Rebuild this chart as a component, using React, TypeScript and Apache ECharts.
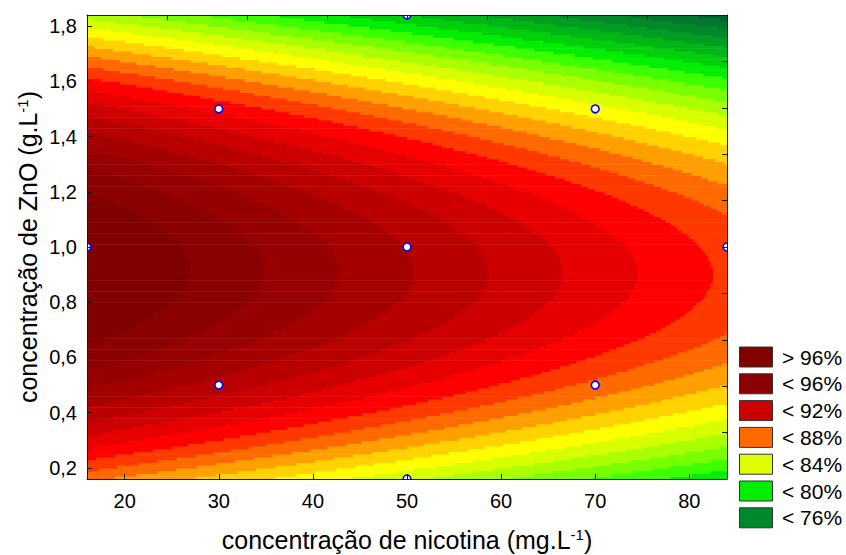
import React, { useEffect, useRef } from "react";
import * as echarts from "echarts";

// ---------- data ----------
// experimental design points (central composite design)
const designNicotina = [16, 30, 30, 50, 50, 50, 70, 70, 84];
const designZnO = [1.0, 1.5, 0.5, 1.84, 1.0, 0.16, 1.5, 0.5, 1.0];

// fitted quadratic response surface in coded units:
// [b0, b1 (X), b2 (Y), b11 (X^2), b22 (Y^2), b12 (XY)]
const surfaceCoefficients = [92.96, -2.54, -1.54, 0.0, -4.375, -0.1];
const codingCenter = [50, 1.0];
const codingStep = [20, 0.5];

// contour levels (%) and band colours (below first level ... above last level)
const contourLevels = [73, 74, 75, 76, 77, 78, 79, 80, 81, 82, 83, 84, 85, 86, 87, 88, 89, 90, 91, 92, 93, 94, 95, 96];
const bandColors = [
  "#005a34", "#00652f", "#00772a", "#00882b", "#009e20", "#00b515", "#00cf0a", "#00ee00",
  "#3cff00", "#78ff00", "#aaff00", "#d8ff00", "#ffff00", "#ffd200", "#ffa000", "#ff6a00",
  "#ff3800", "#ff0000", "#e60000", "#cc0000", "#b80000", "#a50000", "#960000", "#8b0000", "#800000",
];

const xTickValues = [20, 30, 40, 50, 60, 70, 80];
const yTickValues = [0.2, 0.4, 0.6, 0.8, 1.0, 1.2, 1.4, 1.6, 1.8];
const topTickValues = [24.5, 33, 41.5, 50, 58.5, 67, 75.5];
const rightTickValues = [0.328, 0.496, 0.664, 0.832, 1.0, 1.168, 1.336, 1.504, 1.672];

const legendLabels = ["> 96%", "< 96%", "< 92%", "< 88%", "< 84%", "< 80%", "< 76%"];
const legendColors = ["#800000", "#8b0000", "#cc0000", "#ff6a00", "#ddff00", "#00ee00", "#00882b"];

const xTitle = "concentração de nicotina (mg.L{sup|-1})";
const yTitle = "concentração de ZnO (g.L{sup|-1})";

const X_MIN = 16, X_MAX = 84, Y_MIN = 0.16, Y_MAX = 1.84;
const X_STEP = 0.25, Y_STEP = 0.01;
const FONT = "'Liberation Sans', Arial, sans-serif";

function responseAt(x: number, y: number): number {
  const X = (x - codingCenter[0]) / codingStep[0];
  const Y = (y - codingCenter[1]) / codingStep[1];
  const [b0, b1, b2, b11, b22, b12] = surfaceCoefficients;
  return b0 + b1 * X + b2 * Y + b11 * X * X + b22 * Y * Y + b12 * X * Y;
}

function bandOf(v: number): number {
  let k = 0;
  for (const l of contourLevels) if (v >= l) k++;
  return k;
}

// horizontal runs of equal contour band: [xStart, xEnd, yCenter, band]
function buildRuns(): number[][] {
  const nx = Math.round((X_MAX - X_MIN) / X_STEP);
  const ny = Math.round((Y_MAX - Y_MIN) / Y_STEP);
  const runs: number[][] = [];
  for (let j = 0; j < ny; j++) {
    const yc = Y_MIN + (j + 0.5) * Y_STEP;
    let start = 0;
    let cur = bandOf(responseAt(X_MIN + 0.5 * X_STEP, yc));
    for (let i = 1; i <= nx; i++) {
      const b = i < nx ? bandOf(responseAt(X_MIN + (i + 0.5) * X_STEP, yc)) : -1;
      if (b !== cur) {
        runs.push([X_MIN + start * X_STEP, X_MIN + i * X_STEP, yc, cur]);
        start = i;
        cur = b;
      }
    }
  }
  return runs;
}

function buildOption(): any {
  const runs = buildRuns();
  const points = designNicotina.map((x, i) => [x, designZnO[i]]);
  const axisLine = { show: true, lineStyle: { color: "#1a1a1a", width: 1 } };
  const tickStyle = { color: "#1a1a1a", width: 1 };
  const rich = {
    sup: { fontSize: 15, fontFamily: FONT, color: "#000", padding: [0, 0, 12, 0] },
  };

  const legendGraphics: any[] = [];
  legendLabels.forEach((lab, i) => {
    const cy = 357 + i * 26.8;
    legendGraphics.push({
      type: "rect",
      shape: { x: 739.5, y: cy - 10, width: 33, height: 20 },
      style: { fill: legendColors[i], stroke: "#333", lineWidth: 1 },
    });
    legendGraphics.push({
      type: "text",
      x: 782,
      y: cy,
      style: { text: lab, fontSize: 21, fontFamily: FONT, fill: "#000", textVerticalAlign: "middle", textAlign: "left" },
    });
  });

  return {
    animation: false,
    backgroundColor: "#ffffff",
    grid: { left: 87, top: 15, width: 640, height: 464, containLabel: false },
    xAxis: [
      {
        type: "value", min: X_MIN, max: X_MAX, position: "bottom", z: 10,
        axisLine,
        axisTick: { show: true, inside: true, length: 5, customValues: xTickValues, lineStyle: tickStyle },
        axisLabel: { customValues: xTickValues, margin: 12, fontSize: 20, color: "#000", fontFamily: FONT },
        splitLine: { show: false },
      },
      {
        type: "value", min: X_MIN, max: X_MAX, position: "top", z: 10,
        axisLine,
        axisTick: { show: true, inside: true, length: 5, customValues: topTickValues, lineStyle: tickStyle },
        axisLabel: { show: false },
        splitLine: { show: false },
      },
    ],
    yAxis: [
      {
        type: "value", min: Y_MIN, max: Y_MAX, position: "left", z: 10,
        axisLine,
        axisTick: { show: true, inside: true, length: 5, customValues: yTickValues, lineStyle: tickStyle },
        axisLabel: {
          customValues: yTickValues, margin: 10, fontSize: 20, color: "#000", fontFamily: FONT,
          formatter: (v: number) => v.toFixed(1).replace(".", ","),
        },
        splitLine: { show: false },
      },
      {
        type: "value", min: Y_MIN, max: Y_MAX, position: "right", z: 10,
        axisLine,
        axisTick: { show: true, inside: true, length: 5, customValues: rightTickValues, lineStyle: tickStyle },
        axisLabel: { show: false },
        splitLine: { show: false },
      },
    ],
    series: [
      {
        type: "custom",
        name: "superfície",
        xAxisIndex: 0,
        yAxisIndex: 0,
        clip: true,
        silent: true,
        data: runs,
        dimensions: ["x0", "x1", "y", "band"],
        encode: { x: [0, 1], y: 2 },
        renderItem: (params: any, api: any) => {
          const x0 = api.value(0), x1 = api.value(1), yc = api.value(2), band = api.value(3);
          const p0 = api.coord([x0, yc + Y_STEP / 2]);
          const p1 = api.coord([x1, yc - Y_STEP / 2]);
          return {
            type: "rect",
            shape: { x: p0[0], y: p0[1], width: p1[0] - p0[0] + 0.6, height: p1[1] - p0[1] + 0.6 },
            style: { fill: bandColors[band] },
          };
        },
      },
      {
        type: "custom",
        name: "pontos",
        xAxisIndex: 0,
        yAxisIndex: 0,
        clip: true,
        z: 5,
        data: points,
        renderItem: (params: any, api: any) => {
          const p = api.coord([api.value(0), api.value(1)]);
          return {
            type: "circle",
            shape: { cx: p[0], cy: p[1], r: 3.9 },
            style: { fill: "#ffffff", stroke: "#0000ff", lineWidth: 1.6 },
          };
        },
      },
    ],
    graphic: [
      {
        type: "text",
        x: 407,
        y: 540,
        style: {
          text: xTitle, rich, fontSize: 25, fontFamily: FONT, fill: "#000",
          textAlign: "center", textVerticalAlign: "middle",
        },
      },
      {
        type: "text",
        x: 28,
        y: 247,
        rotation: Math.PI / 2,
        style: {
          text: yTitle, rich, fontSize: 25, fontFamily: FONT, fill: "#000",
          textAlign: "center", textVerticalAlign: "middle",
        },
      },
      ...legendGraphics,
    ],
  };
}

export default function App() {
  const ref = useRef<HTMLDivElement>(null);
  useEffect(() => {
    const chart = echarts.init(ref.current!, null, { renderer: "svg" });
    chart.setOption(buildOption());
    return () => chart.dispose();
  }, []);
  return (
    <div
      ref={ref}
      style={{ position: "absolute", left: 0, top: 0, width: 846, height: 555 }}
    />
  );
}
